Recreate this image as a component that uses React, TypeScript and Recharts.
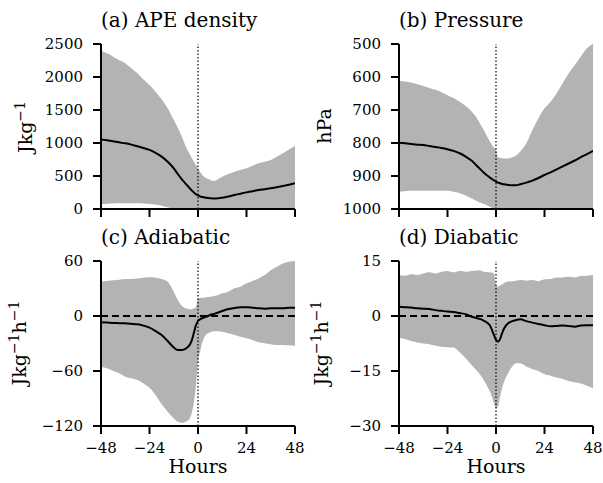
import React from 'react';
import { ComposedChart, Area, Line, XAxis, YAxis, ReferenceLine } from 'recharts';

// hours relative to the event (t = 0)
const hours = [-48, -45, -42, -39, -36, -33, -30, -27, -24, -21, -18, -15, -12, -10, -8, -6, -4, -3, -2, -1, 0, 1, 2, 3, 4, 6, 8, 10, 12, 15, 18, 21, 24, 27, 30, 33, 36, 39, 42, 45, 48];
const hourTicks = [-48, -24, 0, 24, 48];

// (a) APE density, J/kg
const apeMean = [1055, 1040, 1025, 1010, 995, 975, 950, 925, 895, 850, 793, 715, 616, 530, 450, 380, 310, 278, 250, 225, 207, 192, 182, 177, 170, 162, 160, 163, 172, 190, 212, 232, 252, 270, 288, 300, 313, 330, 348, 368, 389];
const apeHi = [2394, 2358, 2308, 2257, 2207, 2131, 2055, 1964, 1879, 1778, 1661, 1525, 1348, 1230, 1100, 944, 825, 768, 715, 665, 616, 566, 520, 490, 470, 440, 424, 455, 490, 530, 566, 592, 616, 655, 692, 715, 742, 790, 843, 900, 954];
const apeLo = [76, 80, 84, 86, 86, 86, 86, 82, 76, 70, 50, 25, 0, 0, 0, 0, 0, 0, 0, 0, 0, 0, 0, 0, 0, 0, 0, 0, 0, 0, 0, 0, 0, 0, 0, 0, 0, 0, 0, 0, 0];

// (b) pressure, hPa
const presMean = [799, 801, 803, 805, 806, 809, 812, 815, 819, 824, 831, 841, 854, 866, 878, 890, 900, 905, 909, 913, 917, 920, 922, 924, 925, 927, 928, 928, 925, 920, 914, 906, 897, 889, 880, 871, 862, 853, 843, 834, 824];
const presHi = [612, 614, 617, 622, 627, 633, 639, 646, 655, 664, 675, 688, 705, 720, 740, 761, 785, 796, 806, 814, 821, 843, 845, 846, 847, 847, 843, 838, 826, 801, 761, 725, 695, 675, 650, 619, 589, 564, 538, 513, 500];
const presLo = [947, 946, 945, 945, 945, 945, 945, 945, 945, 948, 952, 959, 968, 974, 980, 985, 990, 993, 996, 998, 1000, 1000, 1000, 1000, 1000, 1000, 1000, 1000, 1000, 1000, 1000, 1000, 1000, 1000, 1000, 1000, 1000, 1000, 1000, 1000, 1000];

// (c) adiabatic, J/kg/h
const adiaMean = [-6.9, -7.2, -7.6, -7.8, -8, -8.5, -9.1, -10.5, -12.7, -16.4, -20.7, -27.3, -34.3, -37.1, -37.1, -35.5, -31, -26, -18, -10, -5.5, -3.6, -2.5, -1.8, -1, 1.1, 2.3, 3.8, 5.5, 7.6, 8.7, 9.5, 9.5, 9.1, 8.4, 8, 8.4, 8.4, 8.4, 9.1, 9.1];
const adiaHi = [37.5, 38.2, 38.9, 39.6, 40.4, 40.4, 41, 41.8, 42.2, 41.8, 40.4, 37.5, 26.5, 17.5, 11.3, 8.4, 7.3, 7.5, 8.4, 9.5, 19.3, 20, 20, 20, 20.5, 21, 21.8, 23, 24.7, 26.5, 30.2, 32, 35.6, 38.2, 41, 44.7, 50, 53.8, 57.4, 59.3, 60];
const adiaLo = [-55.3, -57, -60, -62.5, -66.2, -68, -69.8, -73.5, -78.2, -86.2, -96.4, -104.4, -111.6, -115.3, -116.4, -115.3, -111.6, -105, -93.5, -75.3, -49.8, -38.9, -29.8, -23.6, -20.5, -17.8, -16.6, -16.5, -17.1, -18.9, -20.7, -22.5, -24.4, -26.2, -28.7, -29.8, -30.9, -31.6, -31.6, -32, -32.4];

// (d) diabatic, J/kg/h
const diaMean = [2.5, 2.4, 2.3, 2.1, 2, 1.9, 1.6, 1.4, 1.2, 1.1, 0.8, 0.5, -0.2, -0.5, -0.8, -1.3, -2, -2.6, -3.8, -5.2, -6.5, -7, -6.3, -4.7, -3.4, -2, -1.4, -1.1, -0.9, -1.4, -1.8, -2.2, -2.5, -2.8, -2.7, -2.6, -2.7, -2.9, -2.6, -2.5, -2.5];
const diaHi = [11.2, 11, 11.4, 11.2, 11.6, 11.9, 11.6, 12.1, 12.3, 11.9, 12.3, 12.1, 12.3, 12.4, 12.5, 12.1, 12, 11.9, 11.8, 11.6, 8.5, 8, 8.3, 8.6, 9, 9.4, 9.5, 9.6, 9.8, 9.6, 9.8, 9.5, 10, 10.1, 10.5, 10.5, 10.7, 10.5, 10.9, 11, 11.2];
const diaLo = [-5.9, -6.3, -6.8, -7.2, -7.5, -7.7, -8.1, -8.4, -8.5, -8.6, -9.9, -11.5, -13.4, -14.6, -15.9, -17.5, -19.5, -20.6, -22, -23.8, -25.2, -24.7, -22, -19.7, -17.9, -15.6, -13.8, -12.9, -12.9, -13.8, -14.5, -15, -15.9, -16.3, -16.8, -17.2, -17.7, -18.1, -18.4, -19, -19.7];

const FONT = '"DejaVu Serif", serif';
const GREY = '#b3b3b3';

const rows = (mean: number[], lo: number[], hi: number[]) =>
  hours.map((h, i) => ({ h, mean: mean[i], band: [lo[i], hi[i]] }));

const fmt = (v: number) => String(v).replace('-', '\u2212');
const blank = () => '';

const axisStyle = { stroke: '#000', strokeWidth: 2 };
const tickText = { fill: '#000', fontSize: 15, fontFamily: FONT };

type PanelProps = {
  data: any[];
  left: number;
  top: number;
  width: number;
  height: number;
  marginTop: number;
  marginRight: number;
  yWidth: number;
  xHeight: number;
  yDomain: [number, number];
  yTicks: number[];
  reversed?: boolean;
  xLabels?: boolean;
  zeroLine?: boolean;
};

const Panel = (p: PanelProps) => (
  <div style={{ position: 'absolute', left: p.left, top: p.top }}>
    <ComposedChart
      width={p.width}
      height={p.height}
      data={p.data}
      margin={{ top: p.marginTop, right: p.marginRight, bottom: 0, left: 0 }}
    >
      <XAxis
        dataKey="h"
        type="number"
        domain={[-48, 48]}
        ticks={hourTicks}
        allowDataOverflow
        height={p.xHeight}
        axisLine={axisStyle}
        tickLine={axisStyle}
        tickSize={8}
        tickMargin={8}
        tick={tickText}
        tickFormatter={p.xLabels ? fmt : blank}
      />
      <YAxis
        type="number"
        domain={p.yDomain}
        ticks={p.yTicks}
        reversed={p.reversed}
        allowDataOverflow
        width={p.yWidth}
        axisLine={axisStyle}
        tickLine={axisStyle}
        tickSize={8}
        tickMargin={10}
        tick={tickText}
        tickFormatter={fmt}
      />
      <Area
        dataKey="band"
        type="monotone"
        fill={GREY}
        fillOpacity={1}
        stroke="none"
        isAnimationActive={false}
      />
      <ReferenceLine x={0} stroke="#000" strokeWidth={1.2} strokeDasharray="1.5 2" />
      {p.zeroLine && <ReferenceLine y={0} stroke="#000" strokeWidth={2} strokeDasharray="7 4" />}
      <Line
        dataKey="mean"
        type="monotone"
        stroke="#000"
        strokeWidth={2}
        dot={false}
        isAnimationActive={false}
      />
    </ComposedChart>
  </div>
);

export default function App() {
  return (
    <div style={{ position: 'absolute', left: 0, top: 0, width: 603, height: 483, background: '#fff', overflow: 'hidden' }}>
      <Panel
        data={rows(apeMean, apeLo, apeHi)}
        left={0} top={0} width={320} height={240}
        marginTop={44} marginRight={25} yWidth={101} xHeight={31}
        yDomain={[0, 2500]} yTicks={[0, 500, 1000, 1500, 2000, 2500]}
      />
      <Panel
        data={rows(presMean, presLo, presHi)}
        left={300} top={0} width={303} height={240}
        marginTop={44} marginRight={10} yWidth={99} xHeight={31}
        yDomain={[500, 1000]} yTicks={[500, 600, 700, 800, 900, 1000]} reversed
      />
      <Panel
        data={rows(adiaMean, adiaLo, adiaHi)}
        left={0} top={240} width={320} height={243}
        marginTop={21} marginRight={25} yWidth={101} xHeight={57}
        yDomain={[-120, 60]} yTicks={[-120, -60, 0, 60]} xLabels zeroLine
      />
      <Panel
        data={rows(diaMean, diaLo, diaHi)}
        left={300} top={240} width={303} height={243}
        marginTop={21} marginRight={10} yWidth={99} xHeight={57}
        yDomain={[-30, 15]} yTicks={[-30, -15, 0, 15]} xLabels zeroLine
      />
      <svg
        width={603}
        height={483}
        style={{ position: 'absolute', left: 0, top: 0, pointerEvents: 'none' }}
        fontFamily={FONT}
        fill="#000"
      >
        <text x={101} y={27} fontSize={20}>(a) APE density</text>
        <text x={399} y={27} fontSize={20}>(b) Pressure</text>
        <text x={101} y={244} fontSize={20}>(c) Adiabatic</text>
        <text x={399} y={244} fontSize={20}>(d) Diabatic</text>

        <text transform="translate(32,127) rotate(-90)" textAnchor="middle" fontSize={19}>
          Jkg<tspan dy={-7} fontSize={14}>{'\u22121'}</tspan>
        </text>
        <text transform="translate(331,126) rotate(-90)" textAnchor="middle" fontSize={19}>hPa</text>
        <text transform="translate(26,343) rotate(-90)" textAnchor="middle" fontSize={19}>
          Jkg<tspan dy={-7} fontSize={14}>{'\u22121'}</tspan>
          <tspan dy={7}>h</tspan>
          <tspan dy={-7} fontSize={14}>{'\u22121'}</tspan>
        </text>
        <text transform="translate(328,343) rotate(-90)" textAnchor="middle" fontSize={19}>
          Jkg<tspan dy={-7} fontSize={14}>{'\u22121'}</tspan>
          <tspan dy={7}>h</tspan>
          <tspan dy={-7} fontSize={14}>{'\u22121'}</tspan>
        </text>

        <text x={198} y={473} textAnchor="middle" fontSize={19}>Hours</text>
        <text x={496} y={473} textAnchor="middle" fontSize={19}>Hours</text>
      </svg>
    </div>
  );
}
